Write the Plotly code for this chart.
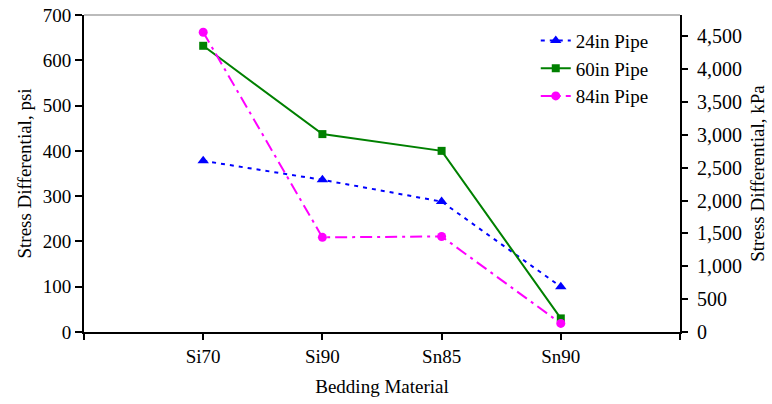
import plotly.graph_objects as go

categories = ["Si70", "Si90", "Sn85", "Sn90"]
pipe24 = [378, 336, 288, 100]
pipe60 = [632, 437, 400, 30]
pipe84 = [662, 209, 211, 19]
psi_to_kpa = 6.894757
left_ticks = [0, 100, 200, 300, 400, 500, 600, 700]
right_ticks = [0, 500, 1000, 1500, 2000, 2500, 3000, 3500, 4000, 4500]

xpos = list(range(len(categories)))
font = "Liberation Serif"
fs = 19

fig = go.Figure()
fig.add_trace(go.Scatter(x=xpos, y=pipe24, name="24in Pipe", mode="lines+markers",
                         line=dict(color="#0000FF", width=2, dash="4px,5px"),
                         marker=dict(symbol="triangle-up", size=10, color="#0000FF")))
fig.add_trace(go.Scatter(x=xpos, y=pipe60, name="60in Pipe", mode="lines+markers",
                         line=dict(color="#008000", width=2),
                         marker=dict(symbol="square", size=8, color="#008000")))
fig.add_trace(go.Scatter(x=xpos, y=pipe84, name="84in Pipe", mode="lines+markers",
                         line=dict(color="#FF00FF", width=2, dash="12px,5px,3px,5px"),
                         marker=dict(symbol="circle", size=9, color="#FF00FF")))
# invisible trace on the kPa axis so it is drawn
fig.add_trace(go.Scatter(x=xpos, y=[v * psi_to_kpa for v in pipe24], yaxis="y2",
                         mode="lines", line=dict(color="rgba(0,0,0,0)"),
                         showlegend=False, hoverinfo="skip"))

fig.update_layout(
    width=772, height=404,
    margin=dict(l=84, r=92, t=15, b=72, autoexpand=False),
    paper_bgcolor="white", plot_bgcolor="white",
    font=dict(family=font, size=fs, color="black"),
    showlegend=True,
    legend=dict(x=0.758, y=0.979, xanchor="left", yanchor="top",
                font=dict(family=font, size=fs), bgcolor="rgba(0,0,0,0)",
                tracegroupgap=2, traceorder="grouped"),
    xaxis=dict(range=[-1, 4], tickmode="array", automargin=False,
               tickvals=[-1, 0, 1, 2, 3, 4],
               ticktext=[""] + categories + [""],
               ticks="outside", ticklen=6, tickwidth=2, tickcolor="black",
               showline=True, linecolor="black", linewidth=2,
               showgrid=False, zeroline=False,
               title=dict(text="Bedding Material", font=dict(family=font, size=fs), standoff=14),
               tickfont=dict(family=font, size=fs)),
    yaxis=dict(range=[0, 700], tickvals=left_ticks, automargin=False,
               ticks="outside", ticklen=7, tickwidth=2, tickcolor="black",
               showline=True, linecolor="black", linewidth=2,
               showgrid=False, zeroline=False,
               title=dict(text="Stress Differential, psi", font=dict(family=font, size=fs), standoff=6),
               tickfont=dict(family=font, size=fs)),
    yaxis2=dict(range=[0, 700 * psi_to_kpa], overlaying="y", side="right", automargin=False,
                tickvals=right_ticks, tickformat=",d",
                ticks="outside", ticklen=6, tickwidth=2, tickcolor="black",
                showline=True, linecolor="black", linewidth=2,
                showgrid=False, zeroline=False, ticklabelstandoff=5,
                title=dict(text="Stress Differential, kPa", font=dict(family=font, size=fs), standoff=10),
                tickfont=dict(family=font, size=20)),
    shapes=[dict(type="line", xref="paper", yref="paper", x0=0, x1=1, y0=1, y1=1,
                 line=dict(color="#BBBBBB", width=2))],
)

fig.write_html("out.html")
